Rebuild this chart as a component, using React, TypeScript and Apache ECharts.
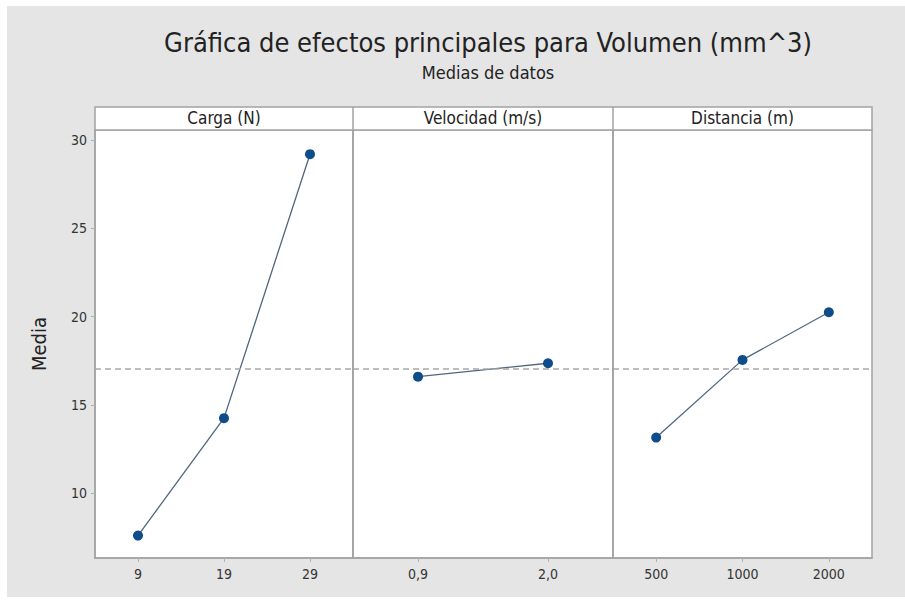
import React, { useEffect, useRef } from "react";
import * as echarts from "echarts";

const cargaCats = ["9", "19", "29"];
const cargaMeans = [7.6, 14.25, 29.2];
const velocidadCats = ["0,9", "2,0"];
const velocidadMeans = [16.6, 17.36];
const distanciaCats = ["500", "1000", "2000"];
const distanciaMeans = [13.15, 17.55, 20.25];
const panelTitles = ["Carga (N)", "Velocidad (m/s)", "Distancia (m)"];
const yTicks = [10, 15, 20, 25, 30];

const grandMean =
  cargaMeans.reduce((a, b) => a + b, 0) / cargaMeans.length;

const FONT = "'Liberation Sans Narrow', 'DejaVu Sans Condensed', 'Liberation Sans', sans-serif";
const LINE = "#a3a3a3";

export default function App() {
  const ref = useRef<HTMLDivElement>(null);
  useEffect(() => {
    if (!ref.current) return;
    const chart = echarts.init(ref.current, undefined, { renderer: "svg" });
    const grids = [
      { left: 88, top: 124, width: 258, height: 428 },
      { left: 346, top: 124, width: 260, height: 428 },
      { left: 606, top: 124, width: 259, height: 428 },
    ];
    const cats = [cargaCats, velocidadCats, distanciaCats];
    const vals = [cargaMeans, velocidadMeans, distanciaMeans];
    const option: any = {
      animation: false,
      backgroundColor: "#e5e5e5",
      title: [
        {
          text: "Gráfica de efectos principales para Volumen (mm^3)",
          left: 476,
          top: 18,
          textAlign: "center",
          textStyle: { fontFamily: FONT, fontSize: 27, fontWeight: "normal", color: "#222" },
        },
        {
          text: "Medias de datos",
          left: 476,
          top: 52,
          textAlign: "center",
          textStyle: { fontFamily: FONT, fontSize: 18, fontWeight: "normal", color: "#222" },
        },
      ],
      grid: grids.map((g) => ({
        ...g,
        show: true,
        backgroundColor: "#ffffff",
        borderColor: LINE,
        borderWidth: 1.5,
        containLabel: false,
      })),
      xAxis: cats.map((c, i) => ({
        type: "category",
        gridIndex: i,
        data: c,
        boundaryGap: true,
        axisLine: { show: true, lineStyle: { color: LINE, width: 1.5 } },
        axisTick: { show: true, alignWithLabel: true, length: 4, lineStyle: { color: "#b0b0b0" } },
        axisLabel: { fontFamily: FONT, fontSize: 14, color: "#333", margin: 9 },
        splitLine: { show: false },
      })),
      yAxis: cats.map((_, i) => ({
        type: "value",
        gridIndex: i,
        min: 6.33,
        max: 30.57,
        name: i === 0 ? "Media" : "",
        nameLocation: "middle",
        nameGap: 46,
        nameTextStyle: { fontFamily: FONT, fontSize: 20, color: "#222" },
        axisLine: { show: i === 0, lineStyle: { color: LINE, width: 1.5 } },
        axisTick: {
          show: i === 0,
          length: 4,
          customValues: yTicks,
          lineStyle: { color: "#b0b0b0" },
        },
        axisLabel: {
          show: i === 0,
          customValues: yTicks,
          fontFamily: FONT,
          fontSize: 14,
          color: "#333",
          margin: 8,
        },
        splitLine: { show: false },
      })),
      series: vals.map((v, i) => ({
        type: "line",
        xAxisIndex: i,
        yAxisIndex: i,
        data: v,
        symbol: "circle",
        symbolSize: 10,
        itemStyle: { color: "#0f4c8a" },
        lineStyle: { color: "#4f6680", width: 1.3 },
        markLine: {
          silent: true,
          symbol: "none",
          label: { show: false },
          lineStyle: { color: "#a8a8a8", type: [6, 4], width: 1.5 },
          data: [{ yAxis: grandMean }],
        },
        z: 3,
      })),
      graphic: [
        {
          type: "rect",
          shape: { x: 88, y: 101, width: 777, height: 23 },
          style: { fill: "#ffffff", stroke: LINE, lineWidth: 1.5 },
          z: 10,
        },
        ...[346, 606].map((x) => ({
          type: "line",
          shape: { x1: x, y1: 101, x2: x, y2: 552 },
          style: { stroke: LINE, lineWidth: 1.5 },
          z: 11,
        })),
        ...panelTitles.map((t, i) => ({
          type: "text",
          x: grids[i].left + grids[i].width / 2,
          y: 112,
          style: {
            text: t,
            fontFamily: FONT,
            fontSize: 17,
            fill: "#222",
            align: "center",
            verticalAlign: "middle",
          },
          z: 12,
        })),
      ],
    };
    chart.setOption(option);
    return () => chart.dispose();
  }, []);
  return (
    <div style={{ position: "absolute", left: 0, top: 0, width: 905, height: 610, background: "#fff" }}>
      <div
        ref={ref}
        style={{ position: "absolute", left: 7, top: 6, width: 898, height: 591 }}
      />
    </div>
  );
}
